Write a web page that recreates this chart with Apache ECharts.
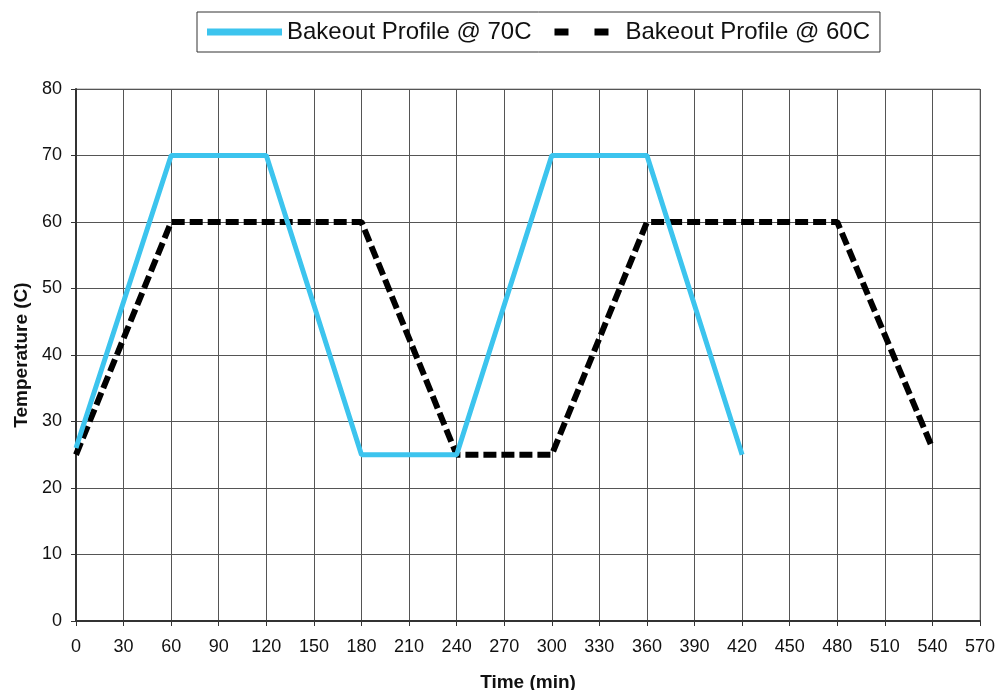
<!DOCTYPE html>
<html><head><meta charset="utf-8">
<script src="https://cdn.jsdelivr.net/npm/echarts@6/dist/echarts.min.js"></script>
<style>html,body{margin:0;padding:0;background:#fff}#c{width:996px;height:690px}</style>
</head><body><div id="c"></div>
<script>
const seriesNames = ['Bakeout Profile @ 70C', 'Bakeout Profile @ 60C'];
const time70 = [0, 60, 120, 180, 240, 300, 360, 420];
const temp70 = [26, 70, 70, 25, 25, 70, 70, 25];
const time60 = [0, 60, 180, 240, 300, 360, 480, 540];
const temp60 = [25, 60, 60, 25, 25, 60, 60, 26];
const xTicks = {min: 0, max: 570, interval: 30};
const yTicks = {min: 0, max: 80, interval: 10};

const chart = echarts.init(document.getElementById('c'));
const font = 'Liberation Sans, Arial, sans-serif';
chart.setOption({
  animation: false,
  backgroundColor: '#fff',
  legend: {
    left: 197, top: 12,
    padding: [8, 10, 8, 10],
    borderColor: '#333', borderWidth: 1,
    itemWidth: 75, itemHeight: 7, itemGap: 14,
    textStyle: {fontFamily: font, fontSize: 24, color: '#111'},
    data: [
      {name: seriesNames[0], icon: 'rect', itemStyle: {color: '#3cc4ee'}},
      {name: seriesNames[1], icon: 'path://M0,0L0,0M9,0H23V7H9ZM49,0H63V7H49ZM75,7L75,7', itemStyle: {color: '#000'}}
    ]
  },
  grid: {left: 76, right: 16, top: 89, bottom: 69, show: true, borderColor: '#999', borderWidth: 1, outerBoundsMode: 'none', containLabel: false},
  xAxis: {
    type: 'value', min: xTicks.min, max: xTicks.max, interval: xTicks.interval,
    name: 'Time (min)', nameLocation: 'middle', nameGap: 52,
    nameTextStyle: {fontFamily: font, fontSize: 19, fontWeight: 'bold', color: '#111'},
    axisLine: {show: true, lineStyle: {color: '#333', width: 2}},
    axisTick: {show: true, length: 5, lineStyle: {color: '#333'}},
    axisLabel: {fontFamily: font, fontSize: 18, color: '#111', margin: 17},
    splitLine: {show: true, lineStyle: {color: '#555', width: 1}}
  },
  yAxis: {
    type: 'value', min: yTicks.min, max: yTicks.max, interval: yTicks.interval,
    name: 'Temperature (C)', nameLocation: 'middle', nameGap: 45,
    nameTextStyle: {fontFamily: font, fontSize: 19, fontWeight: 'bold', color: '#111'},
    axisLine: {show: true, lineStyle: {color: '#333', width: 2}},
    axisTick: {show: true, length: 5, lineStyle: {color: '#333'}},
    axisLabel: {fontFamily: font, fontSize: 18, color: '#111', margin: 14},
    splitLine: {show: true, lineStyle: {color: '#555', width: 1}}
  },
  series: [
    {
      name: seriesNames[0], type: 'line', showSymbol: false, symbol: 'none',
      data: time70.map((t, i) => [t, temp70[i]]),
      lineStyle: {color: '#3cc4ee', width: 5},
      itemStyle: {color: '#3cc4ee'}, z: 3
    },
    {
      name: seriesNames[1], type: 'line', showSymbol: false, symbol: 'none',
      data: time60.map((t, i) => [t, temp60[i]]),
      lineStyle: {color: '#000', width: 6, type: [13, 5]},
      itemStyle: {color: '#000'}, z: 2
    }
  ]
});
</script></body></html>
